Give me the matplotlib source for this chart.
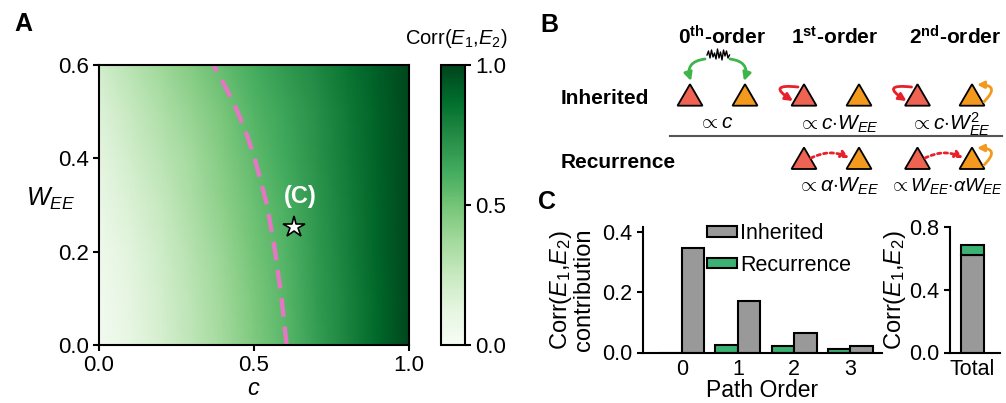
import numpy as np
import matplotlib
matplotlib.use("Agg")
import matplotlib.pyplot as plt
from matplotlib.patches import Polygon, FancyArrowPatch, Patch

plt.rcParams['font.family'] = ['Liberation Sans', 'DejaVu Sans']
plt.rcParams['mathtext.fontset'] = 'custom'
plt.rcParams['mathtext.rm'] = 'Liberation Sans'
plt.rcParams['mathtext.it'] = 'Liberation Sans:italic'
plt.rcParams['mathtext.bf'] = 'Liberation Sans:bold'

# ---------------- data ----------------
# Panel A heatmap (rows: W_EE, cols: c)
c_grid = [0.0, 0.1, 0.2, 0.3, 0.4, 0.5, 0.6, 0.7, 0.8, 0.9, 1.0]
w_grid = [0.0, 0.1, 0.2, 0.3, 0.4, 0.5, 0.6]
corr_w00 = [0.03, 0.11, 0.19, 0.28, 0.37, 0.47, 0.56, 0.67, 0.78, 0.89, 0.99]
corr_w01 = [0.04, 0.12, 0.20, 0.29, 0.38, 0.48, 0.57, 0.68, 0.78, 0.89, 0.99]
corr_w02 = [0.06, 0.14, 0.22, 0.31, 0.40, 0.50, 0.58, 0.69, 0.79, 0.90, 0.99]
corr_w03 = [0.09, 0.17, 0.25, 0.34, 0.43, 0.52, 0.60, 0.70, 0.80, 0.90, 0.99]
corr_w04 = [0.12, 0.21, 0.29, 0.37, 0.46, 0.55, 0.63, 0.72, 0.81, 0.91, 0.99]
corr_w05 = [0.16, 0.25, 0.33, 0.41, 0.49, 0.58, 0.65, 0.73, 0.82, 0.91, 0.99]
corr_w06 = [0.21, 0.30, 0.38, 0.46, 0.54, 0.62, 0.69, 0.76, 0.84, 0.92, 0.99]

# dashed boundary
boundary_w = [0.0, 0.1, 0.2, 0.3, 0.4, 0.45, 0.5, 0.55, 0.6]
boundary_c = [0.605, 0.589, 0.568, 0.542, 0.502, 0.477, 0.447, 0.41, 0.369]

# example point (C)
star_c = 0.628
star_w = 0.252

# Panel C
path_orders = [0, 1, 2, 3]
inherited = [0.346, 0.172, 0.066, 0.023]
recurrence = [0.0, 0.026, 0.020, 0.011]
total_inherited = 0.62
total_recurrence = 0.068

GRAY = '#999999'
GREEN = '#3bb273'
TRI_RED = '#ef6352'
TRI_ORANGE = '#f39a1e'
ARR_RED = '#e8202a'
ARR_GREEN = '#3db54a'

W, H = 1006, 403
fig = plt.figure(figsize=(W / 100, H / 100), dpi=100)

def ax_px(l, t, r, b):
    return [l / W, 1 - b / H, (r - l) / W, (b - t) / H]

# ---------------- Panel A ----------------
axA = fig.add_axes(ax_px(99, 65, 409, 345))
Z = np.array([corr_w00, corr_w01, corr_w02, corr_w03, corr_w04, corr_w05, corr_w06])
mesh = axA.pcolormesh(c_grid, w_grid, Z, cmap='Greens', vmin=0, vmax=1, shading='gouraud')
axA.plot(boundary_c, boundary_w, color='#e377c2', lw=3.2, dashes=(4.2, 2.2), solid_capstyle='butt')
axA.plot([star_c], [star_w], marker='*', ms=16, mfc='white', mec='black', mew=1.2, ls='none')
axA.text(star_c + 0.021, star_w + 0.066, '(C)', color='white', fontsize=17, fontweight='bold',
         ha='center', va='center')
axA.set_xlim(0, 1)
axA.set_ylim(0, 0.6)
axA.set_xticks([0, 0.5, 1.0])
axA.set_yticks([0, 0.2, 0.4, 0.6])
axA.set_xticklabels(['0.0', '0.5', '1.0'])
axA.set_yticklabels(['0.0', '0.2', '0.4', '0.6'])
axA.tick_params(labelsize=16, width=1.5, length=4, direction='out')
for s in axA.spines.values():
    s.set_linewidth(1.5)
axA.set_xlabel(r'$c$', fontsize=17, labelpad=1)
axA.set_ylabel(r'$W_{EE}$', fontsize=18, rotation=0, va='center')
axA.yaxis.set_label_coords(-0.155, 0.52)

cax = fig.add_axes(ax_px(441, 65, 465, 345))
cb = fig.colorbar(mesh, cax=cax, ticks=[0, 0.5, 1.0])
cb.ax.set_yticklabels(['0.0', '0.5', '1.0'])
cb.ax.tick_params(labelsize=16, width=1.5, length=4)
cb.outline.set_linewidth(1.5)
fig.text(456 / W, 1 - 38 / H, r'Corr($E_1$,$E_2$)', fontsize=14.5, ha='center', va='center')

# panel labels
fig.text(14 / W, 1 - 24 / H, 'A', fontsize=18, fontweight='bold', va='center')
fig.text(540 / W, 1 - 25 / H, 'B', fontsize=18, fontweight='bold', va='center')
fig.text(538 / W, 1 - 202 / H, 'C', fontsize=18, fontweight='bold', va='center')

# ---------------- Panel B (schematic) ----------------
axB = fig.add_axes([0, 0, 1, 1], zorder=5)
axB.set_xlim(0, W)
axB.set_ylim(H, 0)
axB.axis('off')
axB.patch.set_alpha(0)

for xh, lab in [(722, r'0$^{\mathbf{th}}$-order'), (835, r'1$^{\mathbf{st}}$-order'),
                (955, r'2$^{\mathbf{nd}}$-order')]:
    axB.text(xh, 37, lab, fontsize=15, fontweight='bold', ha='center', va='center')
axB.text(561, 98, 'Inherited', fontsize=15, fontweight='bold', ha='left', va='center')
axB.text(561, 162, 'Recurrence', fontsize=15, fontweight='bold', ha='left', va='center')
axB.plot([670, 1002], [136, 136], color='#555555', lw=1.5)

def tri(cx, base, color):
    axB.add_patch(Polygon([(cx - 12.5, base), (cx + 12.5, base), (cx, base - 21.5)],
                          closed=True, facecolor=color, edgecolor='black', lw=1.3, zorder=3))

for cx, col in [(690, TRI_RED), (745, TRI_ORANGE), (804, TRI_RED), (859, TRI_ORANGE),
                (917.5, TRI_RED), (972, TRI_ORANGE)]:
    tri(cx, 105.7, col)
for cx, col in [(804, TRI_RED), (859, TRI_ORANGE), (917.5, TRI_RED), (972, TRI_ORANGE)]:
    tri(cx, 169, col)

def arrow(p0, p1, rad, color, ls='-', lw=2.0, ms=12):
    a = FancyArrowPatch(p0, p1, connectionstyle=f'arc3,rad={rad}', arrowstyle='-|>',
                        mutation_scale=ms, color=color, lw=lw, linestyle=ls,
                        shrinkA=0, shrinkB=0, zorder=4)
    axB.add_patch(a)

# noise squiggle
sq_dx = [0, 1.5, 3, 4.5, 6, 7.5, 9, 10.5, 12, 13.5, 15, 16.5, 18, 19.5, 21, 22.5]
sq_dy = [0, -4, 3, -5, 2, -2, 4, -6, 3, -3, 5, -5, 1, -4, 3, 0]
axB.plot([707 + d for d in sq_dx], [55 + d for d in sq_dy], color='black', lw=1.0)

arrow((705, 59), (691, 81), 0.6, ARR_GREEN)
arrow((730, 59), (744, 81), -0.6, ARR_GREEN)
# red self loops
for cx in (804, 917.5):
    arrow((cx - 6, 87), (cx - 11, 101), 2.1, ARR_RED, ms=11)
# orange self loops
for base in (105.7, 169):
    arrow((984, base - 4), (977, base - 21), 1.2, TRI_ORANGE, ms=10)
# dotted recurrence arrows
for x0 in (811, 925):
    arrow((x0, 158), (x0 + 38, 158), -0.25, ARR_RED, ls=(0, (1.2, 1.2)), ms=11)

MS = 15
axB.text(716, 122, r'$\propto c$', fontsize=MS, ha='center', va='center')
axB.text(838, 124, r'$\propto c{\cdot}W_{EE}$', fontsize=MS, ha='center', va='center')
axB.text(950, 124, r'$\propto c{\cdot}W_{EE}^{2}$', fontsize=MS, ha='center', va='center')
axB.text(838, 186, r'$\propto \alpha{\cdot}W_{EE}$', fontsize=MS, ha='center', va='center')
axB.text(1003, 186, r'$\propto W_{EE}{\cdot}\alpha W_{EE}$', fontsize=14, ha='right', va='center')

# ---------------- Panel C ----------------
axC = fig.add_axes(ax_px(643, 227, 882, 352.5))
x = np.array(path_orders)
axC.bar(x - 0.2, recurrence, width=0.4, color=GREEN, edgecolor='black', lw=1.5)
axC.bar(x + 0.2, inherited, width=0.4, color=GRAY, edgecolor='black', lw=1.5)
axC.set_xlim(-0.69, 3.565)
axC.set_ylim(0, 0.4165)
axC.set_xticks(path_orders)
axC.set_yticks([0, 0.2, 0.4])
axC.set_yticklabels(['0.0', '0.2', '0.4'])
axC.tick_params(labelsize=15.5, width=1.5, length=4)
axC.tick_params(axis='x', length=0, pad=5)
for side in ('top', 'right'):
    axC.spines[side].set_visible(False)
for side in ('left', 'bottom'):
    axC.spines[side].set_linewidth(1.5)
axC.set_xlabel('Path Order', fontsize=16.5, labelpad=-1)
axC.set_ylabel('Corr($E_1$,$E_2$)\ncontribution', fontsize=17, linespacing=0.95, labelpad=5)
leg = axC.legend(handles=[Patch(facecolor=GRAY, edgecolor='black', lw=1.5, label='Inherited'),
                          Patch(facecolor=GREEN, edgecolor='black', lw=1.5, label='Recurrence')],
                 loc='upper left', bbox_to_anchor=(707 / W, 1 - 223 / H), bbox_transform=fig.transFigure,
                 frameon=False, fontsize=15.5, handlelength=1.4, handleheight=0.38,
                 handletextpad=0.15, labelspacing=0.5, borderpad=0, borderaxespad=0)

axT = fig.add_axes(ax_px(950, 227, 1000, 352.5))
axT.bar([0], [total_inherited], width=0.5, color=GRAY, edgecolor='black', lw=1.5)
axT.bar([0], [total_recurrence], width=0.5, bottom=[total_inherited], color=GREEN,
        edgecolor='black', lw=1.5)
axT.set_xlim(-0.49, 0.59)
axT.set_ylim(0, 0.8)
axT.set_xticks([0])
axT.set_xticklabels(['Total'])
axT.set_yticks([0, 0.4, 0.8])
axT.set_yticklabels(['0.0', '0.4', '0.8'])
axT.tick_params(labelsize=15.5, width=1.5, length=4)
axT.tick_params(axis='x', length=0, pad=5)
for side in ('top', 'right'):
    axT.spines[side].set_visible(False)
for side in ('left', 'bottom'):
    axT.spines[side].set_linewidth(1.5)
axT.set_ylabel('Corr($E_1$,$E_2$)', fontsize=17, labelpad=1)

fig.savefig('out.png', dpi=100)
